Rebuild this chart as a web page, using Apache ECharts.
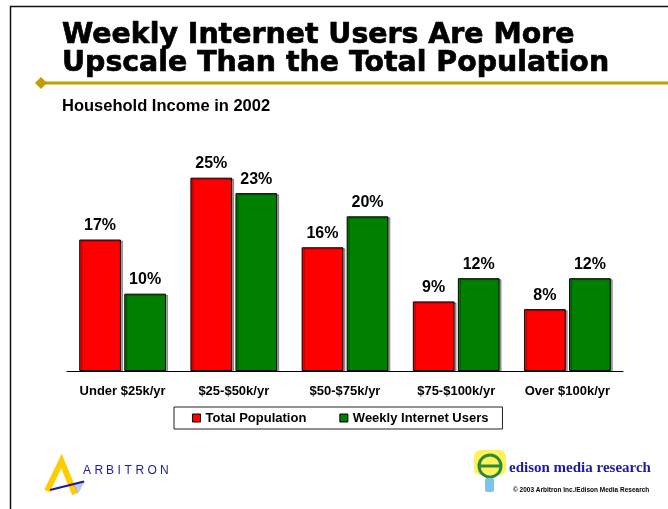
<!DOCTYPE html>
<html>
<head>
<meta charset="utf-8">
<script src="https://cdn.jsdelivr.net/npm/echarts@6/dist/echarts.min.js"></script>
<style>
  html, body { margin: 0; padding: 0; background: #fff; }
  #chart { width: 668px; height: 509px; }
</style>
</head>
<body>
<div id="chart"></div>
<script>
// Household income brackets, 2002
const categories = ['Under $25k/yr', '$25-$50k/yr', '$50-$75k/yr', '$75-$100k/yr', 'Over $100k/yr'];
const totalPopulation = [17, 25, 16, 9, 8];
const weeklyInternetUsers = [10, 23, 20, 12, 12];
const seriesNames = ['Total Population', 'Weekly Internet Users'];

const chart = echarts.init(document.getElementById('chart'), null, { renderer: 'canvas' });

const NAVY = '#1b1b9c';
const GOLD = '#c29d00';

// letters of the Arbitron wordmark, spaced out individually
const arbitronLetters = 'ARBITRON'.split('');
const arbitronX = [83, 94.5, 106, 117.5, 124.5, 135.5, 147.5, 160];

const logoText = arbitronLetters.map((ch, i) => ({
  type: 'text',
  left: arbitronX[i],
  top: 465,
  style: { text: ch, fill: NAVY, font: '12px "Liberation Sans", Arial, sans-serif' },
  silent: true
}));

const barStyle = (color) => ({
  color: color,
  borderColor: '#000',
  borderWidth: 1,
  shadowColor: 'rgba(0,0,0,0.35)',
  shadowOffsetX: 2,
  shadowOffsetY: 1,
  shadowBlur: 0
});

const valueLabel = {
  show: true,
  position: 'top',
  distance: 6,
  formatter: '{c}%',
  color: '#000',
  fontFamily: '"Liberation Sans", Arial, sans-serif',
  fontWeight: 'bold',
  fontSize: 16
};

chart.setOption({
  backgroundColor: '#ffffff',
  animation: false,
  title: [
    {
      text: 'Weekly Internet Users Are More\nUpscale Than the Total Population',
      left: 62,
      top: 22,
      padding: 0,
      textStyle: {
        fontFamily: '"DejaVu Sans", sans-serif',
        fontWeight: 'bold',
        fontSize: 28.4,
        lineHeight: 28,
        color: '#000',
        textBorderColor: '#000',
        textBorderWidth: 0.7
      }
    },
    {
      text: 'Household Income in 2002',
      left: 62,
      top: 98,
      padding: 0,
      textStyle: {
        fontFamily: '"Liberation Sans", Arial, sans-serif',
        fontWeight: 'bold',
        fontSize: 16.5,
        color: '#000'
      }
    }
  ],
  legend: {
    data: seriesNames,
    left: 174,
    top: 407,
    orient: 'horizontal',
    icon: 'rect',
    itemWidth: 8,
    itemHeight: 8,
    itemGap: 33,
    padding: [4, 14, 4, 18],
    borderColor: '#222',
    borderWidth: 1,
    itemStyle: { borderColor: '#000', borderWidth: 1 },
    textStyle: {
      fontFamily: '"Liberation Sans", Arial, sans-serif',
      fontWeight: 'bold',
      fontSize: 13,
      lineHeight: 14,
      color: '#000'
    }
  },
  grid: { left: 67, right: 45, top: 139, height: 232 },
  xAxis: {
    type: 'category',
    data: categories,
    axisLine: { show: true, lineStyle: { color: '#000', width: 1 } },
    axisTick: { show: false },
    axisLabel: {
      margin: 14,
      color: '#000',
      fontFamily: '"Liberation Sans", Arial, sans-serif',
      fontWeight: 'bold',
      fontSize: 13,
      interval: 0
    }
  },
  yAxis: {
    type: 'value',
    min: 0,
    max: 30,
    show: false,
    splitLine: { show: false }
  },
  series: [
    {
      name: seriesNames[0],
      type: 'bar',
      data: totalPopulation,
      barGap: '8%',
      barCategoryGap: '22%',
      itemStyle: barStyle('#ff0000'),
      label: valueLabel
    },
    {
      name: seriesNames[1],
      type: 'bar',
      data: weeklyInternetUsers,
      itemStyle: barStyle('#008000'),
      label: valueLabel
    }
  ],
  graphic: [
    // slide frame
    {
      type: 'rect',
      shape: { x: 10.5, y: 6.5, width: 720, height: 560 },
      style: { fill: 'none', stroke: '#111', lineWidth: 1.5 },
      silent: true
    },
    // gold rule under the heading
    {
      type: 'line',
      shape: { x1: 41, y1: 83, x2: 668, y2: 83 },
      style: { stroke: GOLD, lineWidth: 3 },
      silent: true
    },
    {
      type: 'polygon',
      shape: { points: [[35, 83], [41, 77], [47, 83], [41, 89]] },
      style: { fill: GOLD },
      silent: true
    },
    // Arbitron mark
    {
      type: 'polyline',
      shape: { points: [[47, 491], [61.5, 461], [75, 494]] },
      style: { stroke: '#ffcc00', lineWidth: 6, lineJoin: 'miter', fill: 'none' },
      silent: true
    },
    {
      type: 'polygon',
      shape: { points: [[73, 484], [85, 481], [78, 494]] },
      style: { fill: 'rgba(120,130,220,0.45)' },
      silent: true
    },
    {
      type: 'line',
      shape: { x1: 50, y1: 490, x2: 84, y2: 481.5 },
      style: { stroke: '#1b1b8a', lineWidth: 2 },
      silent: true
    },
    ...logoText,
    // Edison bulb mark
    {
      type: 'rect',
      shape: { x: 474, y: 450, width: 32, height: 25, r: 6 },
      style: { fill: '#fff35a' },
      silent: true
    },
    {
      type: 'circle',
      shape: { cx: 490, cy: 466, r: 11 },
      style: { fill: 'none', stroke: '#2d8a3a', lineWidth: 3 },
      silent: true
    },
    {
      type: 'line',
      shape: { x1: 480, y1: 466, x2: 500, y2: 466 },
      style: { stroke: '#2d8a3a', lineWidth: 3 },
      silent: true
    },
    {
      type: 'rect',
      shape: { x: 485, y: 478, width: 9, height: 14, r: 2 },
      style: { fill: '#7fc3e8' },
      silent: true
    },
    {
      type: 'text',
      left: 509,
      top: 461,
      style: {
        text: 'edison media research',
        fill: NAVY,
        font: 'bold 15px "Liberation Serif", "Times New Roman", serif'
      },
      silent: true
    },
    {
      type: 'text',
      left: 513,
      top: 487,
      style: {
        text: '\u00a9 2003 Arbitron Inc./Edison Media Research',
        fill: '#000',
        font: 'bold 6.5px "Liberation Sans", Arial, sans-serif'
      },
      silent: true
    }
  ]
});
</script>
</body>
</html>
